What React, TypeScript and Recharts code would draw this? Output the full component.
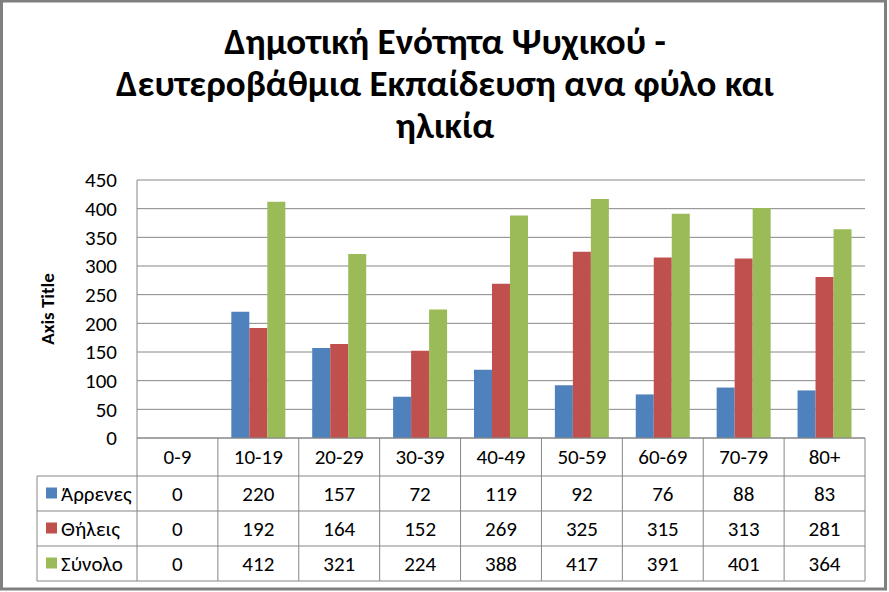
import { BarChart, Bar, XAxis, YAxis, CartesianGrid } from 'recharts'

const categories = ['0-9', '10-19', '20-29', '30-39', '40-49', '50-59', '60-69', '70-79', '80+']
const males = [0, 220, 157, 72, 119, 92, 76, 88, 83]
const females = [0, 192, 164, 152, 269, 325, 315, 313, 281]
const totals = [0, 412, 321, 224, 388, 417, 391, 401, 364]
const yTicks = [0, 50, 100, 150, 200, 250, 300, 350, 400, 450]
const seriesNames = ['Άρρενες', 'Θήλεις', 'Σύνολο']
const titleLines = ['Δημοτική Ενότητα Ψυχικού -', 'Δευτεροβάθμια Εκπαίδευση ανα φύλο και', 'ηλικία']
const axisTitle = 'Axis Title'

const colors = ['#4F81BD', '#C0504D', '#9BBB59']
const lineColor = '#868686'
const font = 'Carlito, "Noto Sans", sans-serif'

const data = categories.map((cat, i) => ({
  cat,
  males: males[i],
  females: females[i],
  totals: totals[i],
}))
const seriesValues = [males, females, totals]

// layout of plot + data table (Excel style)
const plotLeft = 137
const plotRight = 865
const headerH = 38
const rowH = 35
const tableH = headerH + rowH * 3
const legendLeft = 37
const halfBand = (plotRight - plotLeft) / categories.length / 2

function TableColumn(props: any) {
  const { x, y, payload } = props
  const i = categories.indexOf(payload.value)
  const l = x - halfBand
  const r = x + halfBand
  const rows = [0, 1, 2].map((k) => y + headerH + rowH * k)
  return (
    <g fontFamily={font} fontSize={21} fill="#000">
      <line x1={r} y1={y} x2={r} y2={y + tableH} stroke={lineColor} />
      {rows.map((ry, k) => (
        <line key={k} x1={l} y1={ry} x2={r} y2={ry} stroke={lineColor} />
      ))}
      <line x1={l} y1={y + tableH} x2={r} y2={y + tableH} stroke={lineColor} />
      <text x={x} y={y + headerH / 2} textAnchor="middle" dominantBaseline="central">
        {payload.value}
      </text>
      {seriesValues.map((vals, k) => (
        <text key={k} x={x} y={rows[k] + rowH / 2} textAnchor="middle" dominantBaseline="central">
          {vals[i]}
        </text>
      ))}
      {i === 0 && (
        <g>
          <line x1={l} y1={y} x2={l} y2={y + tableH} stroke={lineColor} />
          <line x1={legendLeft} y1={rows[0]} x2={l} y2={rows[0]} stroke={lineColor} />
          <line x1={legendLeft} y1={rows[0]} x2={legendLeft} y2={y + tableH} stroke={lineColor} />
          {rows.map((ry, k) => (
            <g key={k}>
              <line x1={legendLeft} y1={ry + rowH} x2={l} y2={ry + rowH} stroke={lineColor} />
              <rect x={legendLeft + 9} y={ry + rowH / 2 - 6} width={11} height={11} fill={colors[k]} />
              <text x={legendLeft + 24} y={ry + rowH / 2} dominantBaseline="central">
                {seriesNames[k]}
              </text>
            </g>
          ))}
        </g>
      )}
    </g>
  )
}

export default function App() {
  return (
    <div style={{ position: 'absolute', left: 0, top: 0, width: 889, height: 592, background: '#fff' }}>
      <BarChart
        width={889}
        height={592}
        data={data}
        margin={{ top: 180, right: 24, bottom: 11, left: 77 }}
        barCategoryGap="16.6%"
        barGap={0}
      >
        <CartesianGrid vertical={false} stroke={lineColor} />
        <XAxis
          dataKey="cat"
          height={tableH}
          tickSize={0}
          tickMargin={0}
          tickLine={false}
          axisLine={{ stroke: lineColor }}
          tick={<TableColumn />}
          interval={0}
        />
        <YAxis
          width={60}
          domain={[0, 450]}
          ticks={yTicks}
          interval={0}
          tickSize={0}
          tickMargin={20}
          tickLine={false}
          axisLine={{ stroke: lineColor }}
          tick={{ fill: '#000', fontSize: 21, fontFamily: font }}
        />
        <Bar dataKey="males" name={seriesNames[0]} fill={colors[0]} isAnimationActive={false} />
        <Bar dataKey="females" name={seriesNames[1]} fill={colors[1]} isAnimationActive={false} />
        <Bar dataKey="totals" name={seriesNames[2]} fill={colors[2]} isAnimationActive={false} />
      </BarChart>
      <svg width={889} height={592} style={{ position: 'absolute', left: 0, top: 0, pointerEvents: 'none' }}>
        {titleLines.map((t, k) => (
          <text
            key={k}
            x={445}
            y={54 + k * 42}
            textAnchor="middle"
            fontFamily={font}
            fontSize={37}
            fontWeight={700}
            fill="#000"
          >
            {t}
          </text>
        ))}
        <text
          x={47}
          y={309}
          transform="rotate(-90 47 309)"
          textAnchor="middle"
          dominantBaseline="central"
          fontFamily={font}
          fontSize={19}
          fontWeight={700}
          fill="#000"
        >
          {axisTitle}
        </text>
        <rect x={1.5} y={1} width={884} height={588} fill="none" stroke="#7f7f7f" strokeWidth={3} />
      </svg>
    </div>
  )
}
